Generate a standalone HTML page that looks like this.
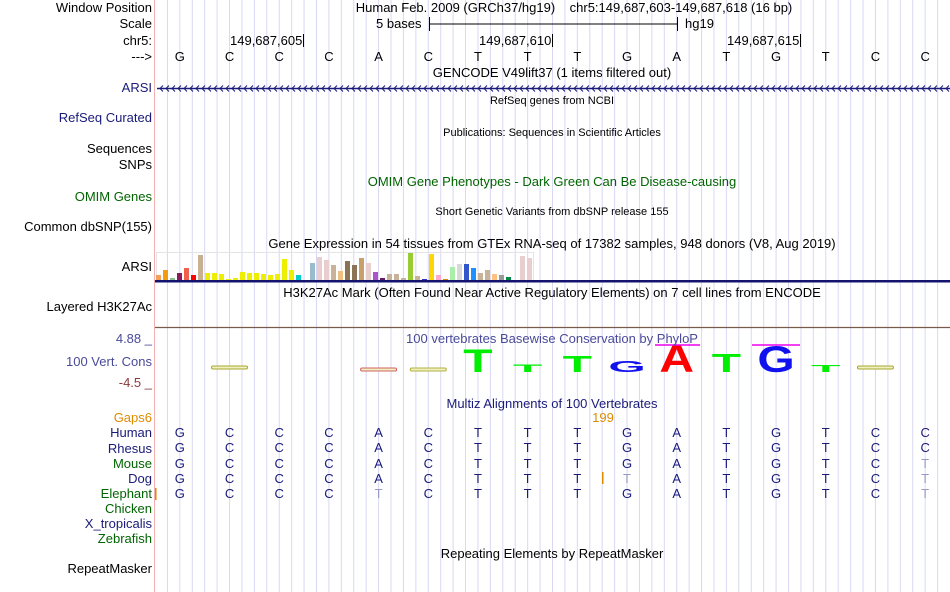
<!DOCTYPE html>
<html><head><meta charset="utf-8"><style>
body{margin:0;background:#fff;}
#c{position:relative;width:950px;height:592px;overflow:hidden;font-family:"Liberation Sans",sans-serif;font-size:13px;color:#000;}
.t{position:absolute;white-space:nowrap;line-height:13px;}
.m{transform:translateX(-50%);}
</style></head><body>
<div id="c">
<svg id="g" width="950" height="592" style="position:absolute;left:0;top:0"></svg>
</div>
<script>
const bases=["G","C","C","C","A","C","T","T","T","G","A","T","G","T","C","C"];
const gtexVals=[5,10,2,7,12,5,25,7,7,6,1,2,8,7,7,6,5,6,21,10,5,0,17,23,20,15,9,19,15,22,17,8,2,6,6,2,27,4,1,26,5,1,13,16,16,12,7,10,6,5,3,0,24,22];
const gtexColors=["#f4a05a","#f39c12","#8fbc8f","#8b1a5b","#f0604c","#ff0000","#c8b090","#eeee00","#eeee00","#eeee00","#eeee00","#eeee00","#eeee00","#eeee00","#eeee00","#eeee00","#eeee00","#eeee00","#eeee00","#eeee00","#00cccc","#cccccc","#99bbcc","#e8cece","#e8cece","#c8b39a","#f0c080","#8b7355","#8b7355","#c8a070","#e8cece","#aa55cc","#661a66","#c8b39a","#c8b39a","#c8b39a","#99cc33","#c8b39a","#3333cc","#ffd700","#ffaacc","#e08a00","#aaeeaa","#d8d8d8","#3355cc","#1e90ff","#c8b39a","#c8b39a","#ffc080","#999999","#008844","#cccccc","#e8cece","#e8cece"];
const species=["Human","Rhesus","Mouse","Dog","Elephant"];
const alignRows=["GCCCACTTTGATGTCC","GCCCACTTTGATGTCC","GCCCACTTTGATGTCT","GCCCACTTTTATGTCT","GCCCTCTTTGATGTCT"];
const alignFaded=["","","15","9,15","4,15"];
const c=document.getElementById('c'),svg=document.getElementById('g'),NS="http://www.w3.org/2000/svg";
const X0=155,BW=(950-155)/16;
function bx(i){return X0+BW*(i+0.5);}
function txt(s,x,y,opts){const d=document.createElement('div');d.className='t'+(opts.cls?' '+opts.cls:'');d.textContent=s;d.style.top=(y-7)+'px';if(opts.right)d.style.right=(950-x)+'px';else d.style.left=x+'px';if(opts.color)d.style.color=opts.color;if(opts.size){d.style.fontSize=opts.size+'px';}c.appendChild(d);return d;}
function el(tag,a){const e=document.createElementNS(NS,tag);for(const k in a)e.setAttribute(k,a[k]);svg.appendChild(e);return e;}
for(let k=1;k<64;k++){const e=el('line',{x1:X0+k*BW/4,x2:X0+k*BW/4,y1:0,y2:592,stroke:'#d8d8f4','stroke-width':1});

}
const pb=el('line',{x1:154.5,x2:154.5,y1:0,y2:592,stroke:'#f4b0b0','stroke-width':1});


const L=[["Window Position",8,"#000"],["Scale",24,"#000"],["chr5:",41,"#000"],["--->",57,"#000"],["ARSI",88,"#1a1a7a"],["RefSeq Curated",118,"#1a1a7a"],["Sequences",149,"#000"],["SNPs",165,"#000"],["OMIM Genes",197,"#006400"],["Common dbSNP(155)",227,"#000"],["ARSI",267,"#000"],["Layered H3K27Ac",307,"#000"],["4.88 _",339,"#4a4a9a"],["100 Vert. Cons",362,"#4a4a9a"],["-4.5 _",383,"#8b3a3a"],["Gaps6",418,"#e08a00"],["Human",433,"#1a1a7a"],["Rhesus",449,"#1a1a7a"],["Mouse",464,"#006400"],["Dog",479,"#1a1a7a"],["Elephant",494,"#006400"],["Chicken",509,"#006400"],["X_tropicalis",524,"#1a1a7a"],["Zebrafish",539,"#006400"],["RepeatMasker",569,"#000"]];
L.forEach(l=>{txt(l[0],152,l[1],{right:true,color:l[2],name:'track-label-'+l[0].toLowerCase().replace(/[^a-z0-9]+/g,'-'),inter:true});});
const T=[["Human Feb. 2009 (GRCh37/hg19)\u00a0\u00a0\u00a0\u00a0chr5:149,687,603-149,687,618 (16 bp)",574,8,13,"#000"],["GENCODE V49lift37 (1 items filtered out)",552,73,13,"#000"],["RefSeq genes from NCBI",552,102,11,"#000"],["Publications: Sequences in Scientific Articles",552,134,11,"#000"],["OMIM Gene Phenotypes - Dark Green Can Be Disease-causing",552,182,13,"#006400"],["Short Genetic Variants from dbSNP release 155",552,213,11,"#000"],["Gene Expression in 54 tissues from GTEx RNA-seq of 17382 samples, 948 donors (V8, Aug 2019)",552,244,13,"#000"],["H3K27Ac Mark (Often Found Near Active Regulatory Elements) on 7 cell lines from ENCODE",552,293,13,"#000"],["100 vertebrates Basewise Conservation by PhyloP",552,339,13,"#4a4a9a"],["Multiz Alignments of 100 Vertebrates",552,404,13,"#1a1a7a"],["Repeating Elements by RepeatMasker",552,554,13,"#000"]];
T.forEach(t=>{txt(t[0],t[1],t[2],{cls:'m',color:t[4],size:t[3],name:'track-title',inter:false});});
txt("5 bases",376,24,{name:'scale-label'});txt("hg19",685,24,{name:'assembly-label'});
el('line',{x1:429,x2:677,y1:24,y2:24,stroke:'#000'});el('line',{x1:429.5,x2:429.5,y1:17,y2:31,stroke:'#000'});el('line',{x1:677.5,x2:677.5,y1:17,y2:31,stroke:'#000'});
[["149,687,605",303],["149,687,610",552],["149,687,615",800]].forEach(p=>{txt(p[0],p[1]-73,41,{name:'coordinate-tick-label'});el('line',{x1:p[1]+0.5,x2:p[1]+0.5,y1:34,y2:47,stroke:'#000'});});
bases.forEach((b,i)=>{txt(b,bx(i),57,{cls:'m',name:'base-'+i});});
el('line',{x1:157,x2:950,y1:88.5,y2:88.5,stroke:'#1a1a7a','stroke-width':1.5});
for(let x=160;x<950;x+=6){el('polyline',{points:`${x+3},85.5 ${x},88.5 ${x+3},91.5`,fill:'none',stroke:'#1a1a7a','stroke-width':1});}
el('rect',{x:156.5,y:252.5,width:377,height:28,fill:'none',stroke:'#e4e4e4'});
const base=280,hs=1;
gtexVals.forEach((v,i)=>{const r=el('rect',{x:156+i*7,y:base-v*hs,width:5,height:v*hs,fill:gtexColors[i]});

});
el('rect',{x:155,y:280,width:795,height:2.5,fill:'#14146e'});
el('line',{x1:155,x2:950,y1:327.5,y2:327.5,stroke:'#7a5a4a','stroke-width':1.2});
function glyph(ch,i,h,col){const t=el('text',{x:0,y:0,fill:col,'font-family':'Liberation Sans, sans-serif','font-weight':'bold','font-size':20,'text-anchor':'middle',transform:`translate(${bx(i)},372) scale(${2.4},${h/14})`});t.textContent=ch;}
const logo=[["T",6,23,"#00ee00"],["T",7,8,"#00ee00"],["T",8,16,"#00ee00"],["G",9,11,"#1111ee"],["A",10,27,"#ff0000"],["T",11,18,"#00ee00"],["G",12,26,"#1111ee"],["T",13,7,"#00ee00"]];
logo.forEach(l=>glyph(l[0],l[1],l[2],l[3]));
[[1,"#a8a830"],[14,"#a8a830"],[4,"#d06060"],[5,"#b0b040"]].forEach(p=>{el('rect',{x:bx(p[0])-18,y:p[0]==1||p[0]==14?366:368,width:36,height:3,fill:'#f0f0c0',stroke:p[1],'stroke-width':1,rx:1.5});});
el('line',{x1:655,x2:700,y1:345,y2:345,stroke:'#ee00ee','stroke-width':1.5});
el('line',{x1:752,x2:800,y1:345,y2:345,stroke:'#ee00ee','stroke-width':1.5});
txt("199",603,418,{cls:'m',color:'#e08a00',name:'gap-count'});
el('rect',{x:155,y:488,width:1.5,height:12,fill:'#e08a00'});
el('rect',{x:602,y:472,width:1.5,height:12,fill:'#e08a00'});
alignRows.forEach((row,r)=>{const f=alignFaded[r].split(',').filter(s=>s).map(Number);
row.split('').forEach((ch,i)=>{txt(ch,bx(i),433+r*15.25,{cls:'m',color:f.includes(i)?'#9a9ac8':'#1a1a7a',name:'align-'+species[r].toLowerCase()+'-'+i});});});
</script>
</body></html>
